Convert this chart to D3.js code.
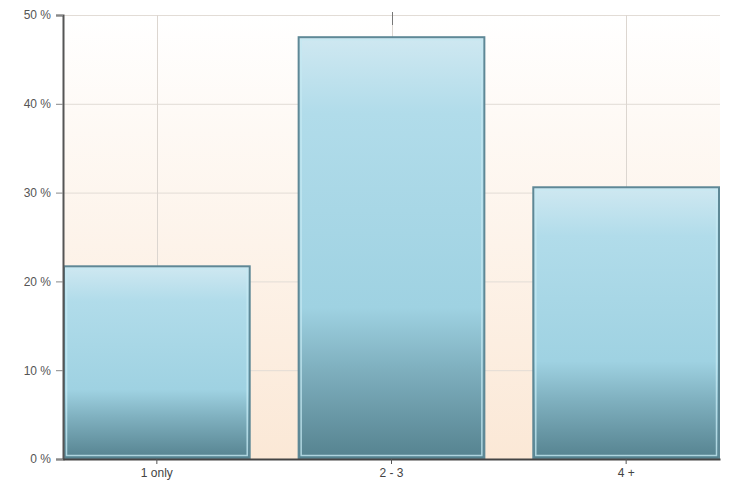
<!DOCTYPE html>
<html>
<head>
<meta charset="utf-8">
<script src="https://cdn.jsdelivr.net/npm/d3@7"></script>
<style>
  body { margin: 0; background: #fff; }
  svg { display: block; font-family: "Liberation Sans", Arial, sans-serif; }
</style>
</head>
<body>
<svg width="729" height="488"></svg>
<script>
let categories = ['1 only', '2 - 3', '4 +']
let values = [21.7, 47.5, 30.6]
let yTicks = [0, 10, 20, 30, 40, 50]

let svg = d3.select('svg')
let plotLeft = 63
let plotRight = 720
let plotTop = 15
let plotBottom = 459

let x = d3.scaleBand().domain(categories).range([plotLeft, plotRight]).paddingInner(0.2).paddingOuter(0)
let y = d3.scaleLinear().domain([0, 50]).range([plotBottom, plotTop])

let defs = svg.append('defs')

// plot background: white fading to peach
let bg = defs.append('linearGradient').attr('id', 'bg')
  .attr('x1', 0).attr('y1', 0).attr('x2', 0).attr('y2', 1)
bg.append('stop').attr('offset', '0%').attr('stop-color', '#ffffff')
bg.append('stop').attr('offset', '100%').attr('stop-color', '#fbe8d6')

// bar fill
let bar = defs.append('linearGradient').attr('id', 'bar')
  .attr('x1', 0).attr('y1', 0).attr('x2', 0).attr('y2', 1)
bar.append('stop').attr('offset', '0%').attr('stop-color', '#cfe8f1')
bar.append('stop').attr('offset', '18%').attr('stop-color', '#b1dcea')
bar.append('stop').attr('offset', '64%').attr('stop-color', '#9fd2e2')
bar.append('stop').attr('offset', '78%').attr('stop-color', '#80b1c0')
bar.append('stop').attr('offset', '100%').attr('stop-color', '#55828f')

svg.append('rect')
  .attr('x', plotLeft).attr('y', plotTop)
  .attr('width', plotRight - plotLeft).attr('height', plotBottom - plotTop)
  .attr('fill', 'url(#bg)')

// grid
let grid = svg.append('g')
grid.selectAll('line.h').data(yTicks).join('line')
  .attr('class', 'h')
  .attr('x1', plotLeft).attr('x2', plotRight)
  .attr('y1', d => y(d) + 0.5).attr('y2', d => y(d) + 0.5)
  .attr('stroke', '#e2dcd6')
grid.selectAll('line.v').data(categories).join('line')
  .attr('class', 'v')
  .attr('x1', d => Math.round(x(d) + x.bandwidth() / 2) + 0.5)
  .attr('x2', d => Math.round(x(d) + x.bandwidth() / 2) + 0.5)
  .attr('y1', plotTop).attr('y2', plotBottom)
  .attr('stroke', '#dcd6d0')

// bars
let bars = svg.append('g')
bars.selectAll('rect.outer').data(values).join('rect')
  .attr('class', 'outer')
  .attr('x', (d, i) => x(categories[i]) + 1)
  .attr('y', d => y(d))
  .attr('width', x.bandwidth() - 2)
  .attr('height', d => plotBottom - y(d))
  .attr('fill', 'url(#bar)')
  .attr('stroke', '#5e8896')
  .attr('stroke-width', 2)
bars.selectAll('rect.inner').data(values).join('rect')
  .attr('class', 'inner')
  .attr('x', (d, i) => x(categories[i]) + 3.5)
  .attr('y', d => y(d) + 2.5)
  .attr('width', x.bandwidth() - 7)
  .attr('height', d => plotBottom - y(d) - 6)
  .attr('fill', 'none')
  .attr('stroke', '#c4e8f2')
  .attr('stroke-opacity', 0.8)
  .attr('stroke-width', 1.5)

// axes
let yAxis = svg.append('g')
  .attr('transform', `translate(${plotLeft},0)`)
  .call(d3.axisLeft(y).tickValues(yTicks).tickSize(7).tickPadding(5).tickFormat(d => d + ' %'))
yAxis.select('.domain').attr('stroke', '#555').attr('stroke-width', 2)
yAxis.selectAll('.tick line').attr('stroke', '#888')
yAxis.selectAll('.tick text').attr('fill', '#555').attr('font-size', 12)

let xAxis = svg.append('g')
  .attr('transform', `translate(0,${plotBottom})`)
  .call(d3.axisBottom(x).tickSize(5).tickPadding(4).tickSizeOuter(0))
xAxis.select('.domain').attr('stroke', '#444').attr('stroke-width', 2)
xAxis.selectAll('.tick line').attr('stroke', '#555')
xAxis.selectAll('.tick text').attr('fill', '#444').attr('font-size', 12)

// small tick at the top of the middle gridline
svg.append('line')
  .attr('x1', Math.round(x(categories[1]) + x.bandwidth() / 2) + 0.5)
  .attr('x2', Math.round(x(categories[1]) + x.bandwidth() / 2) + 0.5)
  .attr('y1', plotTop - 3).attr('y2', plotTop + 10)
  .attr('stroke', '#777')
</script>
</body>
</html>
